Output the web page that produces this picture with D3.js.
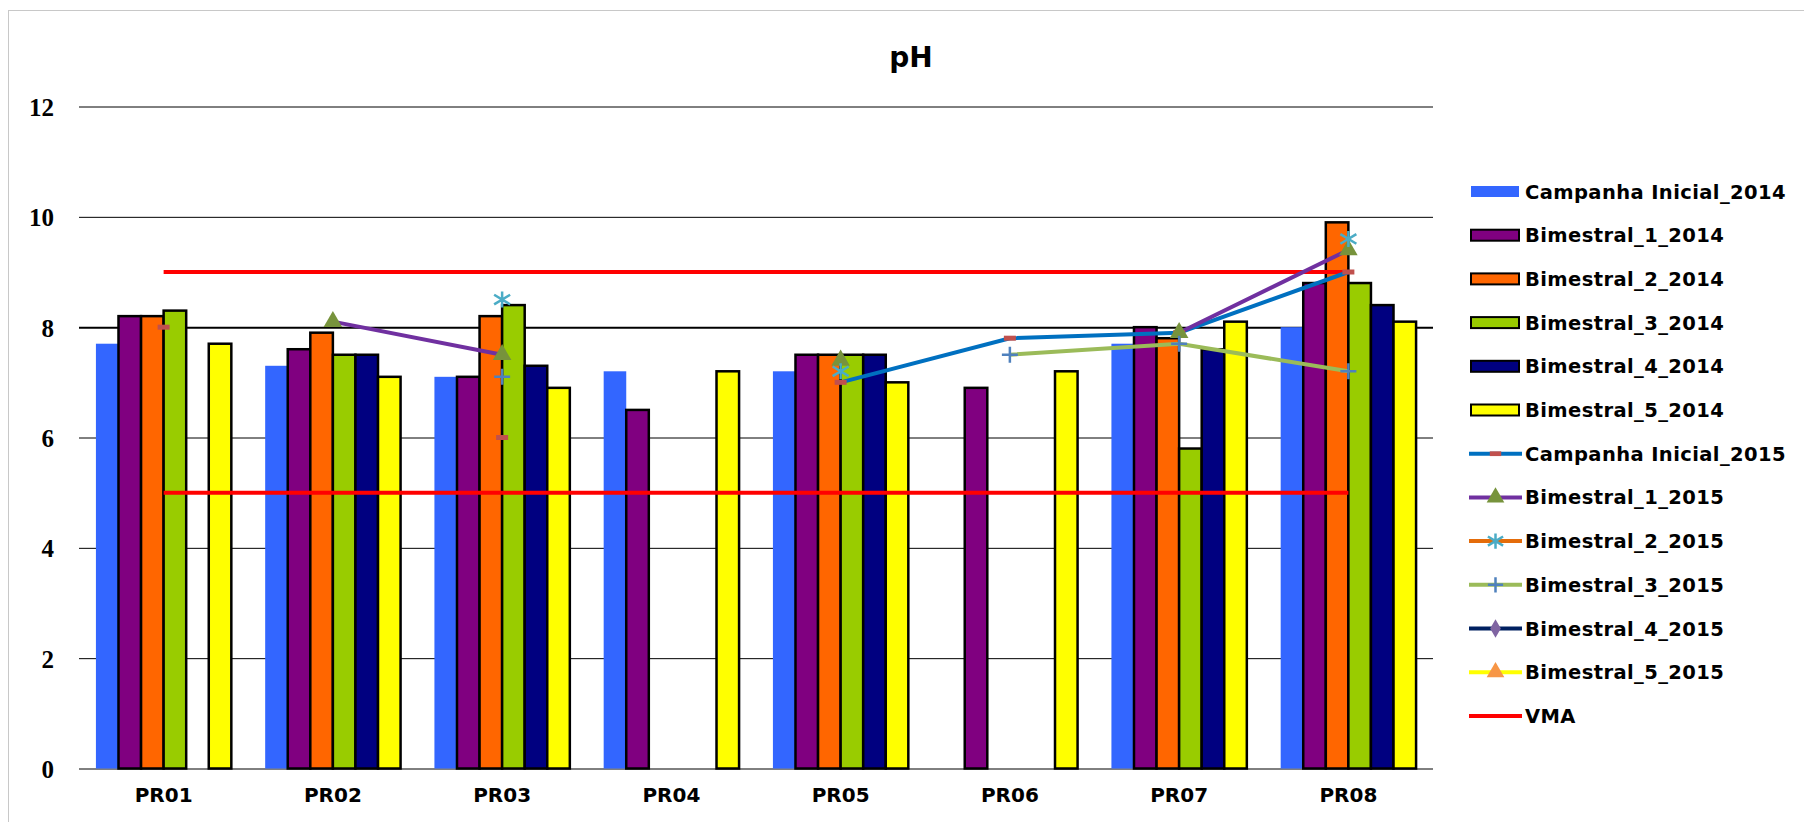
<!DOCTYPE html>
<html>
<head>
<meta charset="utf-8">
<script src="https://cdn.jsdelivr.net/npm/d3@7"></script>
<style>
  body { margin: 0; background: #fff; }
  svg { display: block; }
</style>
</head>
<body>
<svg></svg>
<script>
var categories = ["PR01", "PR02", "PR03", "PR04", "PR05", "PR06", "PR07", "PR08"];
var yTicks = [0, 2, 4, 6, 8, 10, 12];

// bars (2014)
var campanhaInicial2014 = [7.7, 7.3, 7.1, 7.2, 7.2, null, 7.7, 8.0];
var bimestral1_2014 = [8.2, 7.6, 7.1, 6.5, 7.5, 6.9, 8.0, 8.8];
var bimestral2_2014 = [8.2, 7.9, 8.2, null, 7.5, null, 7.8, 9.9];
var bimestral3_2014 = [8.3, 7.5, 8.4, null, 7.5, null, 5.8, 8.8];
var bimestral4_2014 = [null, 7.5, 7.3, null, 7.5, null, 7.6, 8.4];
var bimestral5_2014 = [7.7, 7.1, 6.9, 7.2, 7.0, 7.2, 8.1, 8.1];

// lines (2015)
var campanhaInicial2015 = [8.0, null, 6.0, null, 7.0, 7.8, 7.9, 9.0];
var bimestral1_2015 = [null, 8.1, 7.5, null, 7.4, null, 7.9, 9.4];
var bimestral2_2015 = [null, null, 8.5, null, 7.2, null, null, 9.6];
var bimestral3_2015 = [null, null, 7.1, null, null, 7.5, 7.7, 7.2];
var bimestral4_2015 = [null, null, null, null, null, null, null, null];
var bimestral5_2015 = [null, null, null, null, null, null, null, null];

// VMA limits
var vmaMax = [9, 9, 9, 9, 9, 9, 9, 9];
var vmaMin = [5, 5, 5, 5, 5, 5, 5, 5];

var barSeries = [
  {name: "Campanha Inicial_2014", values: campanhaInicial2014, color: "#3366ff", border: false},
  {name: "Bimestral_1_2014", values: bimestral1_2014, color: "#800080", border: true},
  {name: "Bimestral_2_2014", values: bimestral2_2014, color: "#ff6600", border: true},
  {name: "Bimestral_3_2014", values: bimestral3_2014, color: "#99cc00", border: true},
  {name: "Bimestral_4_2014", values: bimestral4_2014, color: "#000080", border: true},
  {name: "Bimestral_5_2014", values: bimestral5_2014, color: "#ffff00", border: true}
];

var lineSeries = [
  {name: "Campanha Inicial_2015", values: campanhaInicial2015, color: "#0070c0", marker: "dash", mcolor: "#c0504d"},
  {name: "Bimestral_1_2015", values: bimestral1_2015, color: "#7030a0", marker: "triangle", mcolor: "#77933c"},
  {name: "Bimestral_2_2015", values: bimestral2_2015, color: "#e46c0a", marker: "star", mcolor: "#4bacc6"},
  {name: "Bimestral_3_2015", values: bimestral3_2015, color: "#9bbb59", marker: "plus", mcolor: "#4f81bd"},
  {name: "Bimestral_4_2015", values: bimestral4_2015, color: "#002060", marker: "diamond", mcolor: "#8064a2"},
  {name: "Bimestral_5_2015", values: bimestral5_2015, color: "#ffff00", marker: "triangle", mcolor: "#f79646"}
];

var width = 1804,
  height = 822;

var svg = d3.select("svg")
  .attr("width", width)
  .attr("height", height);

// chart frame
svg.append("rect")
  .attr("x", 8.5)
  .attr("y", 10.5)
  .attr("width", width + 20)
  .attr("height", height + 20)
  .attr("fill", "#fff")
  .attr("stroke", "#c8c8c8");

var x0 = d3.scaleBand()
  .domain(categories)
  .range([79, 1433]);

var x1 = d3.scaleBand()
  .domain(barSeries.map(function(d) { return d.name; }))
  .range([0, x0.bandwidth()])
  .paddingOuter(0.75);

var y = d3.scaleLinear()
  .domain([0, 12])
  .range([768.5, 106.5]);

// gridlines + y labels
var yAxis = d3.axisLeft(y)
  .tickValues(yTicks)
  .tickSize(-(1433 - 79))
  .tickPadding(25);

var gy = svg.append("g")
  .attr("transform", "translate(79,0)")
  .call(yAxis);
gy.select(".domain").remove();
gy.selectAll(".tick line")
  .attr("stroke", "#000")
  .attr("stroke-width", function(d) { return d === 8 ? 2 : 1; });
gy.selectAll(".tick text")
  .attr("fill", "#000")
  .attr("x", -25)
  .attr("dy", "0.36em")
  .style("font-family", "'Liberation Serif', serif")
  .style("font-weight", "bold")
  .style("font-size", "25px");

// x labels
var xAxis = d3.axisBottom(x0).tickSize(0).tickPadding(19);
var gx = svg.append("g")
  .attr("transform", "translate(0,768.5)")
  .call(xAxis);
gx.select(".domain").remove();
gx.selectAll(".tick text")
  .attr("fill", "#000")
  .style("font-family", "'DejaVu Sans', sans-serif")
  .style("font-weight", "bold")
  .style("font-size", "20px");

// bars
var barData = [];
barSeries.forEach(function(s) {
  s.values.forEach(function(v, i) {
    if (v !== null) barData.push({series: s, cat: categories[i], value: v});
  });
});

svg.append("g")
  .selectAll("rect")
  .data(barData)
  .enter().append("rect")
  .attr("x", function(d) { return x0(d.cat) + x1(d.series.name); })
  .attr("y", function(d) { return y(d.value); })
  .attr("width", x1.bandwidth())
  .attr("height", function(d) { return y(0) - y(d.value); })
  .attr("fill", function(d) { return d.series.color; })
  .attr("stroke", function(d) { return d.series.border ? "#000" : "none"; })
  .attr("stroke-width", 2.5);

function cx(i) {
  return x0(categories[i]) + x0.bandwidth() / 2;
}

// VMA lines
var vmaLine = d3.line()
  .x(function(d, i) { return cx(i); })
  .y(function(d) { return y(d); });

[vmaMax, vmaMin].forEach(function(vals) {
  svg.append("path")
    .attr("d", vmaLine(vals))
    .attr("fill", "none")
    .attr("stroke", "#ff0000")
    .attr("stroke-width", 4);
});

// marker drawing
function drawMarker(g, type, color, scale) {
  scale = scale || 1;
  if (type === "dash") {
    g.append("rect")
      .attr("x", -6 * scale).attr("y", -2.5 * scale)
      .attr("width", 12 * scale).attr("height", 5 * scale)
      .attr("fill", color);
  } else if (type === "triangle") {
    g.append("path")
      .attr("d", d3.symbol().type(d3.symbolTriangle).size(150 * scale * scale)())
      .attr("fill", color);
  } else if (type === "diamond") {
    g.append("path")
      .attr("d", d3.symbol().type(d3.symbolDiamond).size(110 * scale * scale)())
      .attr("fill", color);
  } else if (type === "star") {
    var r = 8 * scale;
    g.append("path")
      .attr("d", "M" + (-r) + "," + (-r * 0.6) + "L" + r + "," + (r * 0.6) +
        "M" + (-r) + "," + (r * 0.6) + "L" + r + "," + (-r * 0.6) +
        "M0," + (-r) + "V" + r)
      .attr("stroke", color)
      .attr("stroke-width", 2.5)
      .attr("fill", "none");
  } else if (type === "plus") {
    var p = 8 * scale;
    g.append("path")
      .attr("d", "M" + (-p) + ",0H" + p + "M0," + (-p) + "V" + p)
      .attr("stroke", color)
      .attr("stroke-width", 2.5)
      .attr("fill", "none");
  }
}

// 2015 lines
var line = d3.line()
  .defined(function(d) { return d !== null; })
  .x(function(d, i) { return cx(i); })
  .y(function(d) { return y(d); });

lineSeries.forEach(function(s) {
  svg.append("path")
    .attr("d", line(s.values))
    .attr("fill", "none")
    .attr("stroke", s.color)
    .attr("stroke-width", 4);
});

lineSeries.forEach(function(s) {
  s.values.forEach(function(v, i) {
    if (v === null) return;
    var g = svg.append("g")
      .attr("transform", "translate(" + cx(i) + "," + y(v) + ")");
    drawMarker(g, s.marker, s.mcolor);
  });
});

// title
svg.append("text")
  .attr("x", 911)
  .attr("y", 67)
  .attr("text-anchor", "middle")
  .style("font-family", "'DejaVu Sans', sans-serif")
  .style("font-weight", "bold")
  .style("font-size", "28px")
  .text("pH");

// legend
var legend = svg.append("g");
var legendItems = barSeries.map(function(s) { return {type: "bar", s: s}; })
  .concat(lineSeries.map(function(s) { return {type: "line", s: s}; }))
  .concat([{type: "vma", s: {name: "VMA", color: "#ff0000"}}]);

legendItems.forEach(function(item, i) {
  var ly = 191.5 + i * 43.7;
  var g = legend.append("g").attr("transform", "translate(0," + ly + ")");
  if (item.type === "bar") {
    g.append("rect")
      .attr("x", 1471).attr("y", -5.5)
      .attr("width", 48).attr("height", 11)
      .attr("fill", item.s.color)
      .attr("stroke", item.s.border ? "#000" : "none")
      .attr("stroke-width", 2);
  } else {
    g.append("line")
      .attr("x1", 1469).attr("x2", 1522)
      .attr("y1", 0).attr("y2", 0)
      .attr("stroke", item.s.color)
      .attr("stroke-width", 4);
    if (item.type === "line") {
      var m = g.append("g").attr("transform", "translate(1495.5,0)");
      drawMarker(m, item.s.marker, item.s.mcolor, 0.95);
    }
  }
  g.append("text")
    .attr("x", 1525)
    .attr("y", 7)
    .style("font-family", "'DejaVu Sans', sans-serif")
    .style("font-weight", "bold")
    .style("font-size", "19.5px")
    .style("letter-spacing", "0.4px")
    .text(item.s.name);
});
</script>
</body>
</html>
